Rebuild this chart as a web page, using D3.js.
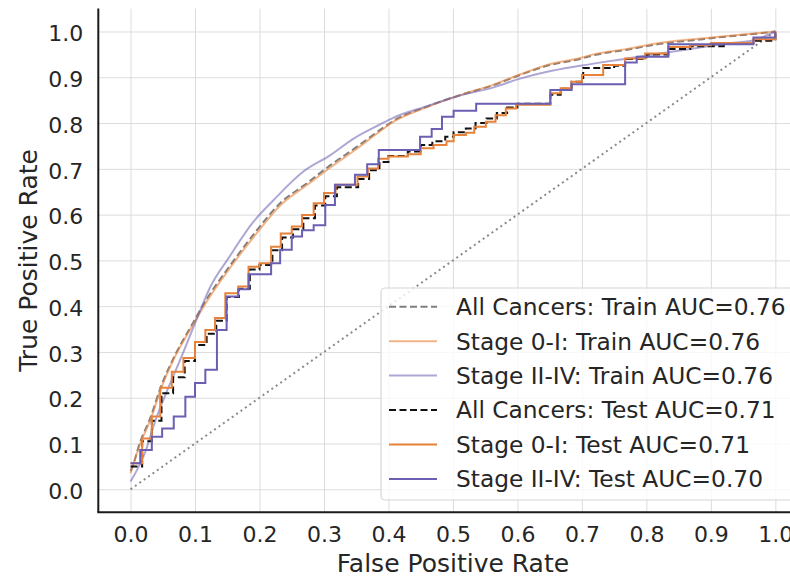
<!DOCTYPE html>
<html>
<head>
<meta charset="utf-8">
<script src="https://cdn.jsdelivr.net/npm/d3@7"></script>
<style>
  html, body { margin: 0; padding: 0; background: #fff; }
  svg { display: block; }
  text { font-family: "DejaVu Sans", sans-serif; fill: #262626; }
</style>
</head>
<body>
<svg id="chart" width="790" height="580"></svg>
<script>
// ---------------- data ----------------
const ticks = [0.0, 0.1, 0.2, 0.3, 0.4, 0.5, 0.6, 0.7, 0.8, 0.9, 1.0];
const seriesNames = [
  "All Cancers: Train AUC=0.76",
  "Stage 0-I: Train AUC=0.76",
  "Stage II-IV: Train AUC=0.76",
  "All Cancers: Test AUC=0.71",
  "Stage 0-I: Test AUC=0.71",
  "Stage II-IV: Test AUC=0.70"
];
const xLabel = "False Positive Rate";
const yLabel = "True Positive Rate";

// [FPR, TPR]
const allTrain = [[0,0.04],[0.002,0.046],[0.015,0.104],[0.031,0.157],[0.046,0.22],[0.069,0.293],[0.095,0.359],[0.118,0.415],[0.155,0.49],[0.196,0.566],[0.232,0.625],[0.273,0.668],[0.31,0.708],[0.351,0.748],[0.387,0.785],[0.408,0.805],[0.46,0.836],[0.511,0.861],[0.563,0.883],[0.604,0.905],[0.646,0.925],[0.697,0.94],[0.718,0.948],[0.77,0.96],[0.821,0.973],[0.873,0.981],[0.925,0.989],[0.97,0.995],[1,1]];
const stage01Train = [[0,0.035],[0.015,0.1],[0.031,0.152],[0.046,0.215],[0.069,0.29],[0.095,0.355],[0.118,0.41],[0.155,0.485],[0.196,0.56],[0.232,0.62],[0.273,0.664],[0.31,0.703],[0.351,0.744],[0.387,0.782],[0.408,0.803],[0.46,0.835],[0.511,0.861],[0.563,0.884],[0.604,0.906],[0.646,0.927],[0.697,0.942],[0.718,0.95],[0.77,0.962],[0.821,0.975],[0.873,0.983],[0.925,0.99],[0.97,0.996],[1,1]];
const stage24Train = [[0,0.017],[0.023,0.082],[0.038,0.148],[0.054,0.206],[0.08,0.293],[0.105,0.38],[0.124,0.443],[0.152,0.505],[0.191,0.585],[0.222,0.632],[0.268,0.694],[0.31,0.73],[0.346,0.766],[0.387,0.797],[0.408,0.812],[0.46,0.837],[0.511,0.86],[0.563,0.878],[0.604,0.897],[0.646,0.912],[0.697,0.925],[0.77,0.941],[0.821,0.952],[0.873,0.963],[0.925,0.974],[0.966,0.981],[1,1]];

// step series: [FPR where TPR rises, new TPR level]
const allTest = [[0,0.05],[0.018,0.105],[0.033,0.15],[0.048,0.21],[0.066,0.245],[0.084,0.28],[0.1,0.315],[0.118,0.34],[0.133,0.368],[0.149,0.42],[0.168,0.438],[0.185,0.48],[0.2,0.49],[0.22,0.522],[0.235,0.55],[0.252,0.568],[0.268,0.592],[0.286,0.62],[0.302,0.64],[0.32,0.66],[0.353,0.678],[0.37,0.697],[0.386,0.715],[0.4,0.728],[0.43,0.738],[0.45,0.752],[0.468,0.76],[0.488,0.77],[0.501,0.78],[0.52,0.788],[0.535,0.8],[0.552,0.81],[0.568,0.822],[0.584,0.834],[0.6,0.842],[0.651,0.862],[0.667,0.875],[0.684,0.89],[0.702,0.92],[0.75,0.925],[0.767,0.94],[0.8,0.95],[0.834,0.962],[0.868,0.968],[0.92,0.975],[0.966,0.98],[1,1]];
const stage01Test = [[0,0.057],[0.018,0.111],[0.033,0.159],[0.046,0.222],[0.064,0.257],[0.082,0.287],[0.1,0.322],[0.116,0.348],[0.131,0.374],[0.147,0.428],[0.167,0.443],[0.183,0.486],[0.2,0.494],[0.218,0.53],[0.233,0.559],[0.25,0.574],[0.266,0.599],[0.284,0.625],[0.3,0.647],[0.318,0.665],[0.352,0.683],[0.368,0.701],[0.384,0.722],[0.4,0.727],[0.43,0.732],[0.45,0.745],[0.47,0.752],[0.49,0.76],[0.501,0.774],[0.52,0.779],[0.533,0.792],[0.551,0.803],[0.566,0.817],[0.582,0.832],[0.598,0.84],[0.651,0.865],[0.667,0.876],[0.684,0.89],[0.7,0.905],[0.733,0.927],[0.767,0.941],[0.798,0.952],[0.834,0.966],[0.868,0.97],[0.9,0.975],[0.966,0.983],[1,1]];
const stage24Test = [[0,0.057],[0.015,0.086],[0.033,0.115],[0.049,0.133],[0.067,0.159],[0.085,0.202],[0.1,0.232],[0.116,0.261],[0.134,0.348],[0.149,0.421],[0.167,0.437],[0.183,0.47],[0.218,0.494],[0.232,0.523],[0.25,0.552],[0.266,0.566],[0.284,0.577],[0.302,0.621],[0.317,0.665],[0.348,0.687],[0.367,0.71],[0.385,0.741],[0.449,0.77],[0.467,0.787],[0.483,0.814],[0.501,0.827],[0.536,0.842],[0.651,0.872],[0.684,0.885],[0.767,0.932],[0.785,0.945],[0.834,0.972],[0.966,0.987],[1,1]];

const diagonal = [[0,0],[1,1]];

// ---------------- drawing ----------------
const svg = d3.select("#chart");
const pLeft = 98.3, pRight = 807.6, pTop = 8.6, pBottom = 512.2;
const x = d3.scaleLinear().domain([-0.05, 1.05]).range([pLeft, pRight]);
const y = d3.scaleLinear().domain([-0.05, 1.05]).range([pBottom, pTop]);

const ORANGE = "#e8823a", PURPLE = "#6a5fb3";

const styles = [
  {data: allTrain,    color: "#7f7f7f", width: 2, dash: "7,3.5", opacity: 1, step: false},
  {data: stage01Train,color: ORANGE,    width: 2, dash: null, opacity: 0.6, step: false},
  {data: stage24Train,color: PURPLE,    width: 2, dash: null, opacity: 0.55, step: false},
  {data: allTest,     color: "#111111", width: 2, dash: "7,3.5", opacity: 1, step: true},
  {data: stage01Test, color: ORANGE,    width: 2, dash: null, opacity: 1, step: true},
  {data: stage24Test, color: PURPLE,    width: 2, dash: null, opacity: 1, step: true}
];

// grid
svg.append("g")
  .attr("transform", `translate(0,${pBottom})`)
  .call(d3.axisBottom(x).tickValues(ticks).tickSize(-(pBottom - pTop)).tickFormat(""))
  .call(g => g.select(".domain").remove())
  .call(g => g.selectAll("line").attr("stroke", "#dcdcdc").attr("stroke-width", 1));
svg.append("g")
  .attr("transform", `translate(${pLeft},0)`)
  .call(d3.axisLeft(y).tickValues(ticks).tickSize(-(pRight - pLeft)).tickFormat(""))
  .call(g => g.select(".domain").remove())
  .call(g => g.selectAll("line").attr("stroke", "#dcdcdc").attr("stroke-width", 1));

// tick labels
svg.append("g")
  .attr("transform", `translate(0,${pBottom})`)
  .call(d3.axisBottom(x).tickValues(ticks).tickSize(0).tickPadding(14).tickFormat(d3.format(".1f")))
  .call(g => g.select(".domain").remove())
  .call(g => g.selectAll("text").attr("font-size", 22).attr("font-family", "DejaVu Sans").attr("fill", "#262626"));
svg.append("g")
  .attr("transform", `translate(${pLeft},0)`)
  .call(d3.axisLeft(y).tickValues(ticks).tickSize(0).tickPadding(15).tickFormat(d3.format(".1f")))
  .call(g => g.select(".domain").remove())
  .call(g => g.selectAll("text").attr("font-size", 22).attr("font-family", "DejaVu Sans").attr("fill", "#262626").attr("dy", "0.42em"));

// diagonal
const lin = d3.line().x(d => x(d[0])).y(d => y(d[1]));
const smooth = d3.line().x(d => x(d[0])).y(d => y(d[1])).curve(d3.curveMonotoneX);
svg.append("path").datum(diagonal).attr("d", lin)
  .attr("fill", "none").attr("stroke", "#8a8a8a").attr("stroke-width", 2)
  .attr("stroke-dasharray", "2,3.4");

// curves
const stepLine = d3.line().x(d => x(d[0])).y(d => y(d[1])).curve(d3.curveStepAfter);
styles.forEach(s => {
  svg.append("path").datum(s.data)
    .attr("d", s.step ? stepLine : smooth)
    .attr("fill", "none")
    .attr("stroke", s.color)
    .attr("stroke-width", s.width)
    .attr("stroke-opacity", s.opacity)
    .attr("stroke-dasharray", s.dash)
    .attr("stroke-linejoin", "miter");
});

// spines
svg.append("line").attr("x1", pLeft).attr("x2", pLeft).attr("y1", pTop).attr("y2", pBottom)
  .attr("stroke", "#1a1a1a").attr("stroke-width", 2);
svg.append("line").attr("x1", pLeft - 1).attr("x2", pRight).attr("y1", pBottom).attr("y2", pBottom)
  .attr("stroke", "#1a1a1a").attr("stroke-width", 2);

// axis labels
svg.append("text").attr("x", (pLeft + pRight) / 2).attr("y", 572)
  .attr("text-anchor", "middle").attr("font-size", 25).text(xLabel);
svg.append("text").attr("transform", `translate(37,${(pTop + pBottom) / 2}) rotate(-90)`)
  .attr("text-anchor", "middle").attr("font-size", 25).text(yLabel);

// legend
const lg = svg.append("g");
lg.append("rect").attr("x", 381).attr("y", 288).attr("width", 420).attr("height", 212)
  .attr("rx", 4).attr("fill", "#fff").attr("fill-opacity", 0.8)
  .attr("stroke", "#d6d6d6").attr("stroke-width", 1.2);
const rowY = d3.scaleLinear().domain([0, 5]).range([306.7, 479]);
styles.forEach((s, i) => {
  const yy = rowY(i);
  lg.append("line").attr("x1", 389).attr("x2", 437).attr("y1", yy).attr("y2", yy)
    .attr("stroke", s.color).attr("stroke-width", s.width).attr("stroke-opacity", s.opacity)
    .attr("stroke-dasharray", s.dash);
  lg.append("text").attr("x", 456).attr("y", yy).attr("dy", "0.36em")
    .attr("font-size", 23.3).text(seriesNames[i]);
});
</script>
</body>
</html>
